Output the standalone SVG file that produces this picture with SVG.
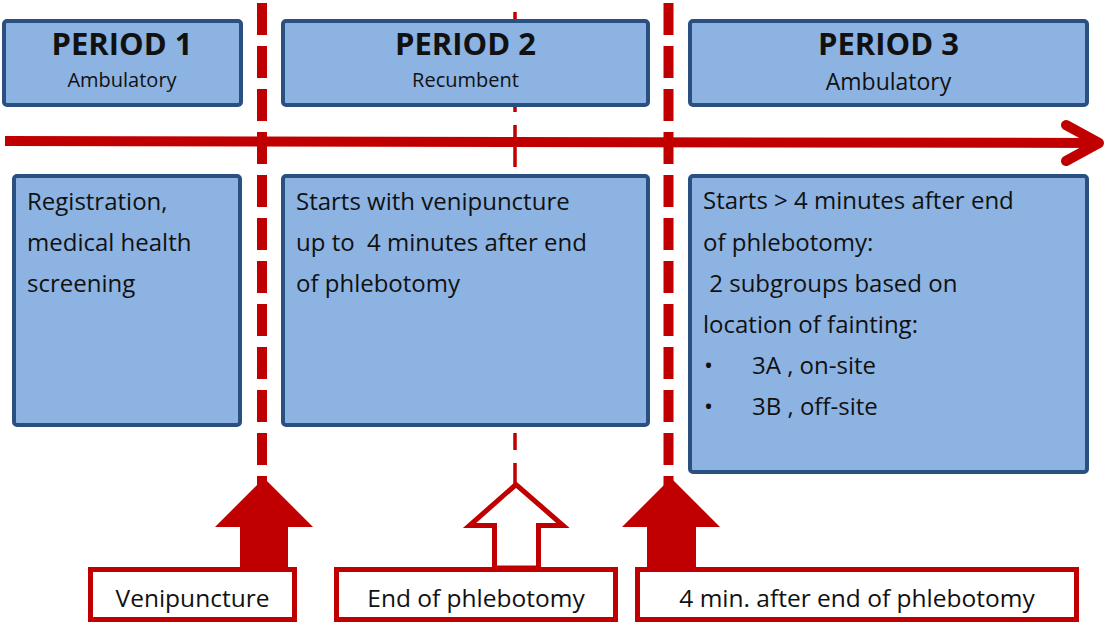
<svg xmlns="http://www.w3.org/2000/svg" width="1106" height="624" viewBox="0 0 1106 624">
  <style>
    .box { fill: #8DB3E2; stroke: #2A5082; stroke-width: 4; }
    .lbl { fill: #FFFFFF; stroke: #C00000; stroke-width: 5; }
    .t { font-family: "Open Sans", "Noto Sans", sans-serif; fill: #111111; white-space: pre; }
    .head { font-size: 31px; font-weight: bold; text-anchor: middle; }
    .sub { font-size: 20px; text-anchor: middle; }
    .body { font-size: 24px; }
    .lab { font-size: 24.5px; text-anchor: middle; }
    .red { stroke: #C00000; fill: none; }
  </style>

  <g id="connectors">
    <path id="thin-dash" class="red" stroke-width="3.5" d="M515 12 V20 M515 104 V112 M515 125 V167 M515 433 V450 M515 463 V484"/>
    <line id="timeline" class="red" x1="5" y1="141" x2="1099" y2="143" stroke-width="10"/>
    <polyline id="timeline-head" class="red" points="1066,125 1099,143 1066,161" stroke-width="10" stroke-linecap="round" stroke-linejoin="round"/>
    <line id="dash-venipuncture" class="red" x1="262" y1="3" x2="262" y2="490" stroke-width="10" stroke-dasharray="32 11"/>
    <line id="dash-4min" class="red" x1="668.5" y1="3" x2="668.5" y2="490" stroke-width="10" stroke-dasharray="32 11"/>
  </g>

  <g id="period1-header">
    <rect class="box" x="4" y="21" width="237" height="84" rx="3"/>
    <text class="t head" x="122" y="55">PERIOD 1</text>
    <text class="t sub" x="122" y="87">Ambulatory</text>
  </g>
  <g id="period2-header">
    <rect class="box" x="283" y="21" width="365" height="84" rx="3"/>
    <text class="t head" x="465.5" y="55">PERIOD 2</text>
    <text class="t sub" x="465.5" y="87">Recumbent</text>
  </g>
  <g id="period3-header">
    <rect class="box" x="690" y="21" width="397" height="84" rx="3"/>
    <text class="t head" x="888.5" y="55">PERIOD 3</text>
    <text class="t sub" x="888.5" y="90" style="font-size:23px">Ambulatory</text>
  </g>

  <g id="period1-body">
    <rect class="box" x="14" y="176" width="226" height="249" rx="3"/>
    <text class="t body" x="27" y="210">Registration,</text>
    <text class="t body" x="27" y="251">medical health</text>
    <text class="t body" x="27" y="292">screening</text>
  </g>
  <g id="period2-body">
    <rect class="box" x="283" y="176" width="365" height="249" rx="3"/>
    <text class="t body" x="296" y="210">Starts with venipuncture</text>
    <text class="t body" x="296" y="251">up to  4 minutes after end</text>
    <text class="t body" x="296" y="292">of phlebotomy</text>
  </g>
  <g id="period3-body">
    <rect class="box" x="690" y="176" width="397" height="296" rx="3"/>
    <text class="t body" x="703" y="209">Starts &gt; 4 minutes after end</text>
    <text class="t body" x="703" y="250.5"><tspan>of phlebotomy:</tspan></text>
    <text class="t body" x="703" y="291.5"> 2 subgroups based on</text>
    <text class="t body" x="703" y="333">location of fainting:</text>
    <text class="t body" x="704" y="374">•</text>
    <text class="t body" x="752" y="374">3A , on-site</text>
    <text class="t body" x="704" y="415">•</text>
    <text class="t body" x="752" y="415">3B , off-site</text>
  </g>

  <g id="venipuncture">
    <polygon fill="#C00000" points="264,478 313,527 288,527 288,568 240,568 240,527 215,527"/>
    <rect class="lbl" x="90.5" y="569.5" width="204" height="50"/>
    <text class="t lab" x="192.5" y="607">Venipuncture</text>
  </g>
  <g id="end-of-phlebotomy">
    <polygon fill="#FFFFFF" stroke="#C00000" stroke-width="5" points="516,484.5 469.5,525.5 494.5,525.5 494.5,568 538.5,568 538.5,525.5 563,525.5"/>
    <rect class="lbl" x="336.5" y="569.5" width="279" height="50"/>
    <text class="t lab" x="476" y="607">End of phlebotomy</text>
  </g>
  <g id="four-min-after">
    <polygon fill="#C00000" points="671,478 720,527 696,527 696,568 647,568 647,527 622,527"/>
    <rect class="lbl" x="637.5" y="569.5" width="439" height="50"/>
    <text class="t lab" x="857" y="607">4 min. after end of phlebotomy</text>
  </g>
</svg>
